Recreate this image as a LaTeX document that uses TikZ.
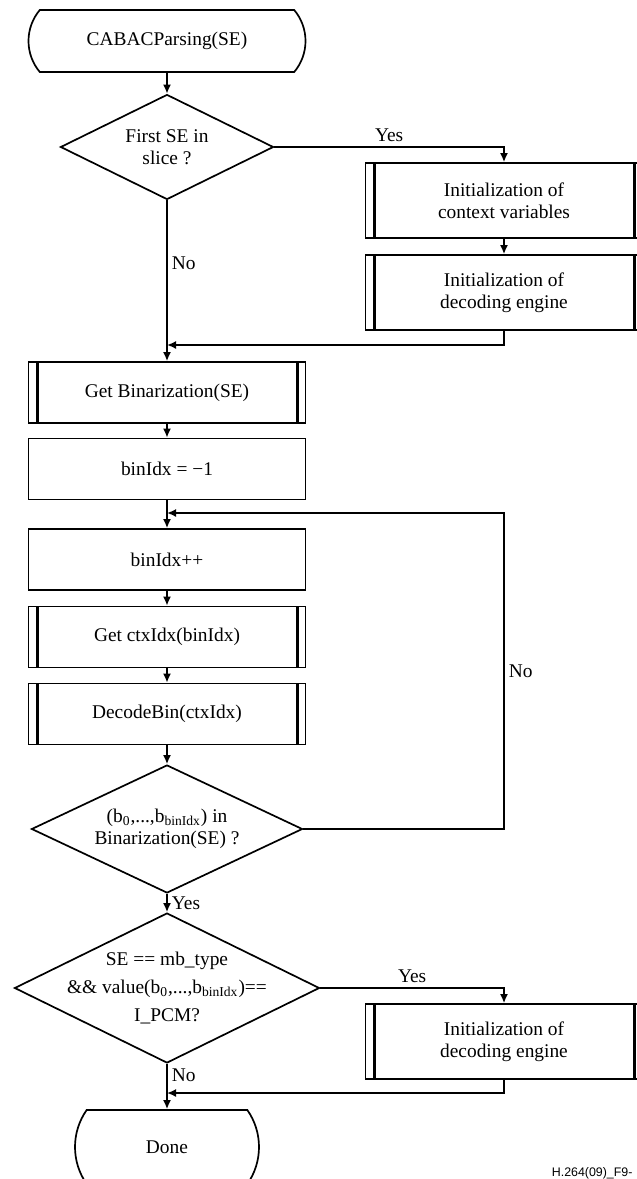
\documentclass[tikz,border=0pt]{standalone}
\usepackage{fontspec}
\setmainfont{Liberation Serif}
\newfontfamily\figidfont{Liberation Sans}
\usepackage{tikz}
\usetikzlibrary{arrows.meta,shapes.geometric,shapes.misc}

\begin{document}
\begin{tikzpicture}[x=0.5pt,y=-0.5pt,
    font=\fontsize{9.7}{11}\selectfont,line width=0.85pt,
    arr/.style={-{Latex[length=4.5pt,width=4pt]}},
    proc/.style={draw,rectangle,minimum width=138.5pt,minimum height=30.5pt,inner sep=0pt,align=center},
    subproc/.style={proc,path picture={
      \draw[line width=1.3pt] ([xshift=4.5pt]path picture bounding box.north west) -- ([xshift=4.5pt]path picture bounding box.south west);
      \draw[line width=1.3pt] ([xshift=-4pt]path picture bounding box.north east) -- ([xshift=-4pt]path picture bounding box.south east);}},
    term/.style={draw,rounded rectangle,rounded rectangle arc length=80,minimum width=138.5pt,minimum height=31pt,inner sep=0pt},
    decision/.style={draw,diamond,inner sep=0pt},
    lbl/.style={inner sep=2pt}]
  \useasboundingbox (0,0) rectangle (637,1179); % 図全体の範囲
  \clip (0,0) rectangle (637,1179); % 右端と下端は切れている

  \node[term] (start) at (167,41) {CABACParsing(SE)}; % 開始
  \node[decision,minimum width=106.5pt,minimum height=52.5pt] (first) at (167,147) {}; % 最初のSEか
  \node[align=center] (firsttxt) at (first) {First SE in\\slice ?};
  \node[subproc,minimum height=37.5pt] (initctx) at (504,200.5) {Initialization of\\context variables};
  \node[subproc,minimum height=37.5pt] (initeng) at (504,292.5) {Initialization of\\decoding engine};
  \coordinate (join1) at (167,345); % 合流点
  \node[subproc] (getbin) at (167,392.5) {Get Binarization(SE)};
  \node[proc] (binset) at (167,469) {binIdx = −1};
  \coordinate (join2) at (167,513); % ループの戻り先
  \node[proc] (bininc) at (167,559.5) {binIdx++};
  \node[subproc] (getctx) at (167,637) {Get ctxIdx(binIdx)};
  \node[subproc] (decbin) at (167,714) {DecodeBin(ctxIdx)};
  \node[decision,minimum width=135.5pt,minimum height=64pt] (inbin) at (167,829) {}; % 二値化列に含まれるか
  \node[align=center] (inbintxt) at (inbin) {(b\textsubscript{0},...,b\textsubscript{binIdx}) in\\Binarization(SE) ?};
  \node[decision,minimum width=152.5pt,minimum height=75pt] (ipcm) at (167,988) {}; % I_PCMか
  \node[align=center] (ipcmtxt) at (ipcm) {SE == mb\_type\\[3pt]\&\& value(b\textsubscript{0},...,b\textsubscript{binIdx})==\\[3pt]I\_PCM?};
  \node[subproc,minimum height=37.5pt] (initeng2) at (504,1041.5) {Initialization of\\decoding engine};
  \coordinate (join3) at (167,1093); % 合流点
  \node[term,minimum width=92pt,minimum height=37pt,rounded rectangle arc length=70] (done) at (167,1147) {Done}; % 終了
  \node[font=\figidfont\fontsize{6.2}{7}\selectfont,anchor=west,inner sep=0pt] (figid) at (551,1173) {H.264(09)\_F9-};

  \draw[arr] (start) -- (first);
  \draw[arr] (first.east) -| node[lbl,pos=0.25,above] (yes1) {Yes} (initctx.north);
  \draw[arr] (initctx) -- (initeng);
  \draw[arr] (initeng.south) |- (join1);
  \draw[arr] (first.south) -- node[lbl,pos=0.39,right] (no1) {No} (getbin.north);
  \draw[arr] (getbin) -- (binset);
  \draw[arr] (binset) -- (bininc);
  \draw[arr] (bininc) -- (getctx);
  \draw[arr] (getctx) -- (decbin);
  \draw[arr] (decbin) -- (inbin.north);
  \draw[arr] (inbin.east) -- (inbin.east -| initctx.south) |- node[lbl,pos=0.25,right] (no2) {No} (join2); % ループ
  \draw[arr] (inbin.south) -- node[lbl,pos=0.5,right] (yes2) {Yes} (ipcm.north);
  \draw[arr] (ipcm.east) -| node[lbl,pos=0.25,above] (yes3) {Yes} (initeng2.north);
  \draw[arr] (initeng2.south) |- (join3);
  \draw[arr] (ipcm.south) -- node[lbl,pos=0.25,right] (no3) {No} (done.north);
\end{tikzpicture}
\end{document}
